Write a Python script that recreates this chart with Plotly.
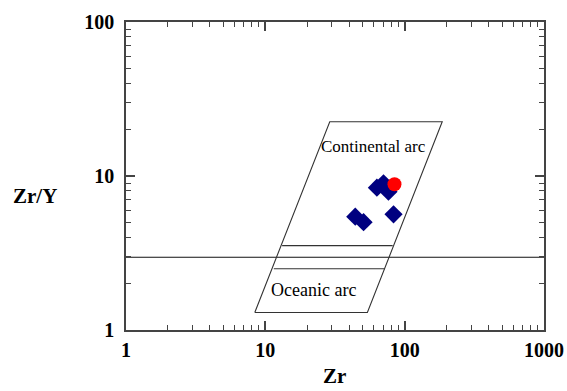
import plotly.graph_objects as go

# Sample data (Zr ppm, Zr/Y)
zr_samples = [63.2, 70.5, 76.5, 83.2, 44.2, 50.7]
zry_samples = [8.40, 8.97, 7.91, 5.64, 5.44, 5.01]
zr_red = [84.5]
zry_red = [8.83]

# Discrimination field outline (parallelogram)
field_x = [8.4, 29, 186, 54, 8.4]
field_y = [1.3, 22.5, 22.5, 1.3, 1.3]
# Inner boundary lines of the oceanic arc field
inner1_x = [13.2, 82]
inner1_y = [3.53, 3.53]
inner2_x = [11.5, 72]
inner2_y = [2.5, 2.5]
# Long horizontal line
hline_x = [1, 1000]
hline_y = [2.97, 2.97]

tick_vals_x = [1, 10, 100, 1000]
tick_text_x = ["1", "10", "100", "1000"]
tick_vals_y = [1, 10, 100]
tick_text_y = ["1", "10", "100"]
minor_x = [m * d for d in (1, 10, 100) for m in range(2, 10)]
minor_y = [m * d for d in (1, 10) for m in range(2, 10)]

SERIF = "Liberation Serif, Times New Roman, serif"

fig = go.Figure()
line_style = dict(color="#333333", width=1.1)
fig.add_trace(go.Scatter(x=hline_x, y=hline_y, mode="lines", line=dict(color="#111111", width=1.1)))
fig.add_trace(go.Scatter(x=field_x, y=field_y, mode="lines", line=line_style))
fig.add_trace(go.Scatter(x=inner1_x, y=inner1_y, mode="lines", line=line_style))
fig.add_trace(go.Scatter(x=inner2_x, y=inner2_y, mode="lines", line=line_style))
fig.add_trace(go.Scatter(x=zr_samples, y=zry_samples, mode="markers",
                         marker=dict(symbol="diamond", size=14, color="#000080")))
fig.add_trace(go.Scatter(x=zr_red, y=zry_red, mode="markers",
                         marker=dict(symbol="circle", size=14, color="#ff0000")))

fig.add_annotation(x=1.774, y=1.19, xref="x", yref="y", text="Continental arc", showarrow=False,
                   xanchor="center", yanchor="middle",
                   font=dict(family=SERIF, size=17, color="#000000"))
fig.add_annotation(x=1.348, y=0.26, xref="x", yref="y", text="Oceanic arc", showarrow=False,
                   xanchor="center", yanchor="middle",
                   font=dict(family=SERIF, size=18, color="#000000"))

W, H = 567, 391
ml, mr, mt, mb = 125.5, 23, 22, 61
pw, ph = W - ml - mr, H - mt - mb

def px_to_paper(px, py):
    return (px - ml) / pw, 1 - (py - mt) / ph

ax_, ay_ = px_to_paper(34.5, 196)
fig.add_annotation(x=ax_, y=ay_, xref="paper", yref="paper", text="<b>Zr/Y</b>", showarrow=False,
                   xanchor="center", yanchor="middle",
                   font=dict(family=SERIF, size=21, color="#000000"))
bx_, by_ = px_to_paper(334, 376)
fig.add_annotation(x=bx_, y=by_, xref="paper", yref="paper", text="<b>Zr</b>", showarrow=False,
                   xanchor="center", yanchor="middle",
                   font=dict(family=SERIF, size=21, color="#000000"))

axis_common = dict(
    type="log", showgrid=False, zeroline=False, showline=True, linecolor="#444444", linewidth=1.5,
    mirror="ticks", ticks="inside", ticklen=9, tickwidth=1.5, tickcolor="#444444",
    tickfont=dict(family=SERIF, size=20, color="#000000", weight="bold"),
)
fig.update_xaxes(range=[0, 3], tickvals=tick_vals_x, ticktext=tick_text_x, ticklabelstandoff=1,
                 minor=dict(ticks="inside", ticklen=5, tickwidth=1.2, tickcolor="#444444",
                            showgrid=False, tickvals=minor_x),
                 **axis_common)
fig.update_yaxes(range=[0, 2], tickvals=tick_vals_y, ticktext=tick_text_y, ticklabelstandoff=6,
                 minor=dict(ticks="inside", ticklen=5, tickwidth=1.2, tickcolor="#444444",
                            showgrid=False, tickvals=minor_y),
                 **axis_common)

fig.update_layout(
    width=W, height=H, margin=dict(l=ml, r=mr, t=mt, b=mb, autoexpand=False),
    showlegend=False, plot_bgcolor="white", paper_bgcolor="white",
    font=dict(family=SERIF),
)
fig.write_html("out.html")
